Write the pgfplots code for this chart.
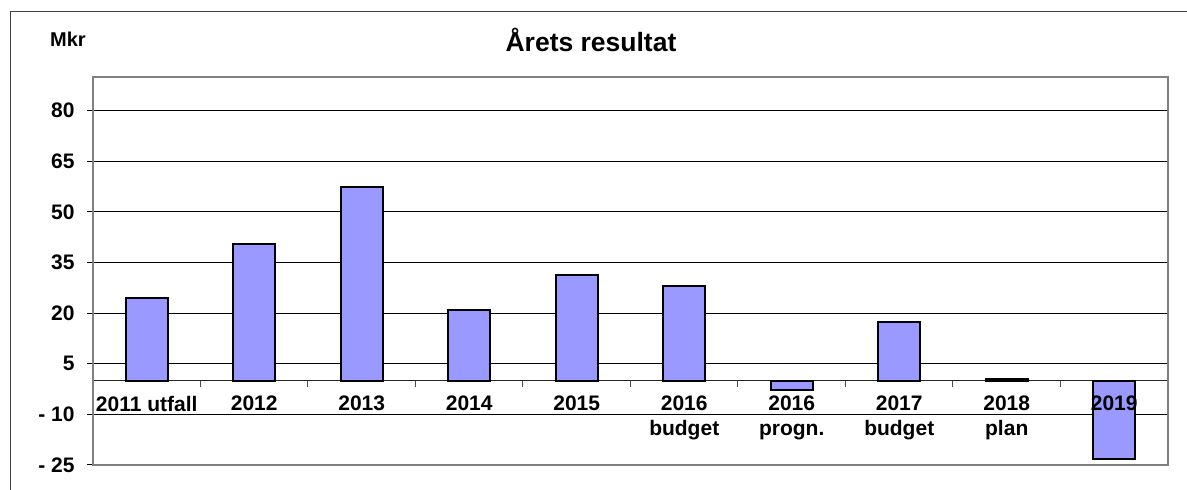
\documentclass[border=0pt]{standalone}
\usepackage{pgfplots}
\pgfplotsset{compat=1.18}
\usepackage{fontspec}
\setmainfont{Liberation Sans}
\definecolor{barblue}{HTML}{9999FF}
\begin{document}
\begin{tikzpicture}
\begin{axis}[
  scale only axis, width=1075pt, height=388pt,
  at={(93pt,25pt)}, anchor=south west,
  xmin=-0.5, xmax=9.5, ymin=-25, ymax=90,
  axis x line=middle, axis y line=left,
  hide obscured x ticks=false,
  x axis line style={-, black!85, line width=1pt},
  y axis line style={-, gray, line width=2pt},
  tick align=outside,
  xtick={0,...,9},
  xticklabels={2011 utfall, 2012, 2013, 2014, 2015, {2016\\budget}, {2016\\progn.}, {2017\\budget}, {2018\\plan}, {}},
  minor xtick={0.5,1.5,...,8.5},
  major x tick style={draw=none},
  minor x tick style={black!70, line width=1pt},
  minor tick length=6pt,
  ytick={-25,-10,5,20,35,50,65,80},
  yticklabels={- 25,- 10,5,20,35,50,65,80},
  major tick length=6pt,
  y tick style={black, line width=1pt},
  ymajorgrids, major grid style={black, line width=1pt},
  ticklabel style={font=\fontsize{21}{25}\selectfont\bfseries},
  xticklabel style={align=center, anchor=north, yshift=-6pt},
  yticklabel style={anchor=east, xshift=-9pt},
  ybar, bar width=42pt,
  after end axis/.code={\draw[gray, line width=2pt] (rel axis cs:0,0) rectangle (rel axis cs:1,1);},
]
\addplot[fill=barblue, draw=black, line width=2pt] coordinates {
  (0,24.5) (1,40.5) (2,57.5) (3,20.9) (4,31.4) (5,28.2) (6,-2.8) (7,17.5) (8,0.5) (9,-23.2)
};
\node[anchor=north, yshift=-12pt, font=\fontsize{21}{25}\selectfont\bfseries] at (axis cs:9,0) {2019};
\end{axis}
\draw[black!75,line width=1pt] (10pt,-5pt) -- (10pt,478pt) -- (1195pt,478pt);
\node[anchor=base,font=\fontsize{26.5}{30}\selectfont\bfseries] at (591pt,438pt) {Årets resultat};
\node[anchor=base west,inner sep=0pt,font=\fontsize{20}{24}\selectfont\bfseries] at (50pt,443pt) {Mkr};
\pgfresetboundingbox
\useasboundingbox (0,0) rectangle (1187pt,490pt);
\end{tikzpicture}
\end{document}
